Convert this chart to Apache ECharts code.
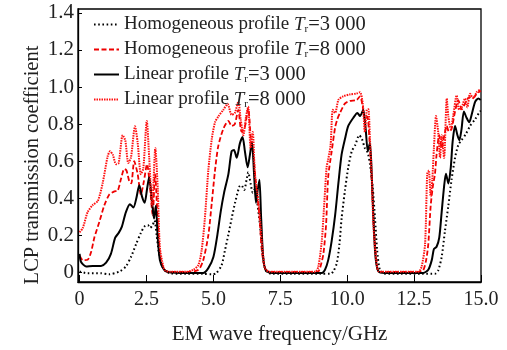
<!DOCTYPE html>
<html>
<head>
<meta charset="utf-8">
<script src="https://cdn.jsdelivr.net/npm/echarts@6/dist/echarts.min.js"></script>
<style>html,body{margin:0;padding:0;background:#fff}#c{width:507px;height:350px}</style>
</head>
<body>
<div id="c"></div>
<script>
var xTicks = [0, 2.5, 5, 7.5, 10, 12.5, 15];
var yTicks = [0, 0.2, 0.4, 0.6, 0.8, 1.0, 1.2, 1.4];
var seriesNames = ['Homogeneous profile', 'Homogeneous profile', 'Linear profile', 'Linear profile'];
var seriesTr = ['3 000', '8 000', '3 000', '8 000'];
var xTitle = 'EM wave frequency/GHz';
var yTitle = 'LCP transmission coefficient';

var homo3k = [[0,0.005],[0.3,-0.005],[0.8,-0.005],[1.1,-0.01],[1.5,0.005],[1.73,0.032],[1.92,0.083],[2.11,0.152],[2.29,0.213],[2.42,0.247],[2.55,0.255],[2.63,0.24],[2.73,0.256],[2.8,0.28],[2.88,0.20],[2.95,0.118],[3.05,0.05],[3.18,0.01],[3.4,-0.005],[4.0,-0.008],[4.6,-0.008],[4.94,-0.01],[5.1,-0.005],[5.31,0.04],[5.43,0.118],[5.56,0.204],[5.68,0.29],[5.81,0.376],[5.97,0.463],[6.05,0.47],[6.15,0.445],[6.24,0.50],[6.3,0.54],[6.39,0.48],[6.47,0.43],[6.55,0.45],[6.64,0.376],[6.74,0.256],[6.84,0.10],[6.96,0.01],[7.2,-0.008],[8.0,-0.008],[9.0,-0.008],[9.36,-0.008],[9.48,0.005],[9.61,0.049],[9.71,0.152],[9.79,0.29],[9.92,0.446],[10.04,0.567],[10.17,0.653],[10.3,0.687],[10.45,0.74],[10.55,0.72],[10.66,0.67],[10.77,0.645],[10.85,0.584],[10.95,0.463],[11.04,0.29],[11.12,0.118],[11.22,0.014],[11.4,-0.008],[12.0,-0.008],[12.8,-0.008],[13.28,-0.008],[13.4,0.01],[13.53,0.083],[13.65,0.22],[13.78,0.36],[13.9,0.5],[14.03,0.618],[14.15,0.687],[14.27,0.713],[14.44,0.748],[14.59,0.79],[14.78,0.826],[14.96,0.868],[15.0,0.87]];

var homo8k = [[0,0.09],[0.12,0.066],[0.3,0.068],[0.43,0.11],[0.55,0.187],[0.74,0.273],[0.92,0.36],[1.11,0.42],[1.3,0.437],[1.42,0.44],[1.55,0.506],[1.67,0.558],[1.75,0.55],[1.86,0.49],[1.93,0.48],[2.04,0.60],[2.17,0.53],[2.29,0.42],[2.4,0.49],[2.52,0.584],[2.63,0.46],[2.73,0.31],[2.82,0.53],[2.92,0.27],[3.0,0.10],[3.13,0.02],[3.3,0.003],[4.0,0.002],[4.44,0.014],[4.62,0.066],[4.81,0.2],[4.94,0.376],[5.06,0.55],[5.18,0.68],[5.37,0.774],[5.56,0.817],[5.68,0.79],[5.8,0.80],[5.93,0.877],[6.05,0.76],[6.17,0.78],[6.30,0.885],[6.4,0.72],[6.49,0.635],[6.59,0.48],[6.72,0.307],[6.81,0.118],[6.93,0.02],[7.1,0.003],[8.9,0.003],[8.99,0.026],[9.11,0.10],[9.21,0.256],[9.29,0.515],[9.42,0.653],[9.55,0.783],[9.63,0.826],[9.73,0.86],[9.92,0.912],[10.1,0.925],[10.35,0.93],[10.48,0.95],[10.58,0.895],[10.66,0.826],[10.75,0.84],[10.83,0.72],[10.92,0.48],[11.0,0.24],[11.1,0.05],[11.2,0.003],[12.7,0.003],[12.84,0.01],[12.95,0.066],[13.03,0.152],[13.12,0.36],[13.2,0.463],[13.28,0.532],[13.34,0.636],[13.44,0.74],[13.53,0.67],[13.63,0.74],[13.72,0.79],[13.8,0.76],[13.9,0.774],[14.03,0.868],[14.15,0.929],[14.28,0.88],[14.4,0.91],[14.56,0.946],[14.7,0.94],[14.84,0.964],[14.99,0.98]];

var lin3k = [[0,0.10],[0.05,0.057],[0.24,0.032],[0.49,0.035],[0.8,0.035],[0.99,0.052],[1.17,0.10],[1.33,0.187],[1.46,0.213],[1.58,0.247],[1.73,0.325],[1.88,0.368],[2.01,0.35],[2.12,0.40],[2.23,0.47],[2.33,0.41],[2.43,0.376],[2.52,0.45],[2.6,0.515],[2.71,0.376],[2.78,0.29],[2.85,0.36],[2.92,0.187],[3.0,0.066],[3.13,0.02],[3.3,0.002],[4.0,-0.003],[4.62,-0.003],[4.81,0.023],[5.0,0.083],[5.15,0.204],[5.27,0.325],[5.4,0.43],[5.56,0.53],[5.68,0.653],[5.77,0.66],[5.87,0.618],[5.99,0.696],[6.09,0.73],[6.18,0.65],[6.28,0.567],[6.36,0.63],[6.44,0.705],[6.52,0.53],[6.59,0.376],[6.65,0.44],[6.72,0.50],[6.78,0.307],[6.86,0.083],[6.96,0.01],[7.2,-0.003],[9.05,-0.003],[9.17,0.014],[9.29,0.066],[9.42,0.17],[9.55,0.31],[9.67,0.48],[9.79,0.635],[9.92,0.722],[10.04,0.79],[10.23,0.834],[10.38,0.86],[10.48,0.843],[10.6,0.877],[10.69,0.774],[10.77,0.653],[10.85,0.70],[10.92,0.515],[10.98,0.29],[11.06,0.08],[11.17,0.005],[11.4,-0.003],[12.84,-0.003],[13.03,0.014],[13.16,0.066],[13.24,0.126],[13.34,0.138],[13.44,0.187],[13.53,0.325],[13.62,0.463],[13.69,0.532],[13.78,0.48],[13.87,0.565],[13.94,0.705],[14.03,0.79],[14.12,0.74],[14.19,0.713],[14.27,0.77],[14.36,0.868],[14.46,0.834],[14.56,0.81],[14.65,0.85],[14.78,0.92],[14.9,0.938],[14.99,0.93]];

var lin8k = [[0,0.216],[0.12,0.24],[0.3,0.325],[0.49,0.363],[0.68,0.385],[0.86,0.48],[1.05,0.627],[1.14,0.653],[1.24,0.635],[1.36,0.584],[1.46,0.59],[1.61,0.74],[1.71,0.71],[1.82,0.59],[1.92,0.62],[2.07,0.788],[2.17,0.70],[2.29,0.53],[2.38,0.56],[2.51,0.817],[2.6,0.62],[2.71,0.36],[2.83,0.67],[2.92,0.45],[3.0,0.135],[3.13,0.03],[3.2,0.01],[3.4,0.003],[4.0,0.003],[4.25,0.014],[4.44,0.04],[4.56,0.118],[4.68,0.29],[4.81,0.55],[4.94,0.72],[5.06,0.81],[5.18,0.84],[5.37,0.877],[5.53,0.908],[5.68,0.85],[5.8,0.86],[5.93,0.92],[6.02,0.825],[6.12,0.74],[6.22,0.84],[6.30,0.894],[6.39,0.67],[6.47,0.757],[6.55,0.53],[6.64,0.43],[6.74,0.29],[6.84,0.118],[6.93,0.02],[7.1,0.003],[8.8,0.003],[8.92,0.03],[9.05,0.17],[9.13,0.34],[9.23,0.566],[9.29,0.61],[9.38,0.687],[9.46,0.877],[9.55,0.86],[9.67,0.93],[9.85,0.95],[10.1,0.96],[10.35,0.965],[10.48,0.972],[10.58,0.912],[10.66,0.757],[10.73,0.877],[10.79,0.88],[10.85,0.72],[10.92,0.515],[10.98,0.256],[11.08,0.066],[11.17,0.005],[11.3,0.003],[12.66,0.003],[12.78,0.03],[12.91,0.152],[12.99,0.53],[13.05,0.55],[13.12,0.41],[13.18,0.5],[13.24,0.67],[13.32,0.843],[13.4,0.757],[13.47,0.618],[13.53,0.74],[13.62,0.618],[13.72,0.938],[13.78,0.84],[13.87,0.774],[13.96,0.843],[14.09,0.955],[14.18,0.878],[14.28,0.89],[14.4,0.938],[14.49,0.89],[14.59,0.964],[14.71,0.94],[14.84,0.972],[14.96,0.985]];

var dataSets = [homo3k, homo8k, lin3k, lin8k];
var styles = [
  {color:'#000', width:2, type:[1.6,2.6]},
  {color:'#ee0000', width:1.8, type:[5,2.5]},
  {color:'#000', width:2, type:'solid'},
  {color:'#ff1010', width:2, type:[1.5,1]}
];
var FONT = 'Liberation Serif';
var names = seriesNames.map(function(n,i){ return n + ' T=' + seriesTr[i] + ' #' + i; });

var chart = echarts.init(document.getElementById('c'), null, {renderer:'canvas'});
chart.setOption({
  animation:false,
  backgroundColor:'#fff',
  grid:{left:78, right:26, top:9, bottom:60, show:true, borderColor:'#000', borderWidth:1.3, backgroundColor:'transparent'},
  legend:{
    orient:'vertical', left:93, top:14, padding:0, itemGap:4, itemWidth:25, itemHeight:14,
    data:names,
    itemStyle:{opacity:0},
    formatter:function(name){ var i = names.indexOf(name); return seriesNames[i] + ' {it|T}{sub|r}{num|=' + seriesTr[i] + '}'; },
    textStyle:{fontFamily:FONT, fontSize:19, color:'#222', lineHeight:20,
      rich:{ it:{fontFamily:FONT, fontSize:19, fontStyle:'italic', color:'#222', lineHeight:20},
             sub:{fontFamily:FONT, fontSize:11, color:'#222', verticalAlign:'bottom', lineHeight:20},
             num:{fontFamily:FONT, fontSize:20.5, color:'#222', lineHeight:20} } }
  },
  graphic:[{
    type:'text', x:33, y:165, rotation:Math.PI/2,
    style:{text:yTitle, fontFamily:FONT, fontSize:20.5, fill:'#222', align:'center', verticalAlign:'middle'}
  }],
  xAxis:{
    type:'value', min:-0.06, max:15,
    name:xTitle, nameLocation:'middle', nameGap:42,
    nameTextStyle:{fontFamily:FONT, fontSize:21, color:'#222'},
    axisLine:{show:true, onZero:false, lineStyle:{color:'#000', width:1.3}},
    axisTick:{show:true, inside:true, length:7, customValues:xTicks, lineStyle:{color:'#000', width:1}},
    axisLabel:{customValues:xTicks, margin:8, fontFamily:FONT, fontSize:20, color:'#222',
      formatter:function(v){ return v===0 ? '0' : v.toFixed(1); }},
    splitLine:{show:false}
  },
  yAxis:{
    type:'value', min:-0.052, max:1.421,
    axisLine:{show:true, onZero:false, lineStyle:{color:'#000', width:1.3}},
    axisTick:{show:true, inside:true, length:4, customValues:yTicks, lineStyle:{color:'#000', width:1}},
    axisLabel:{customValues:yTicks, margin:4, fontFamily:FONT, fontSize:21, color:'#222',
      formatter:function(v){ return v===0 ? '0' : v.toFixed(1); }},
    splitLine:{show:false}
  },
  series: dataSets.map(function(d,i){
    return {name:names[i], type:'line', data:d, symbol:'none', showSymbol:false, smooth:0.25,
      clip:true, lineStyle:styles[i], itemStyle:{color:styles[i].color}, z: 2 + (i===3 ? 1 : 0)};
  })
});
</script>
</body>
</html>
